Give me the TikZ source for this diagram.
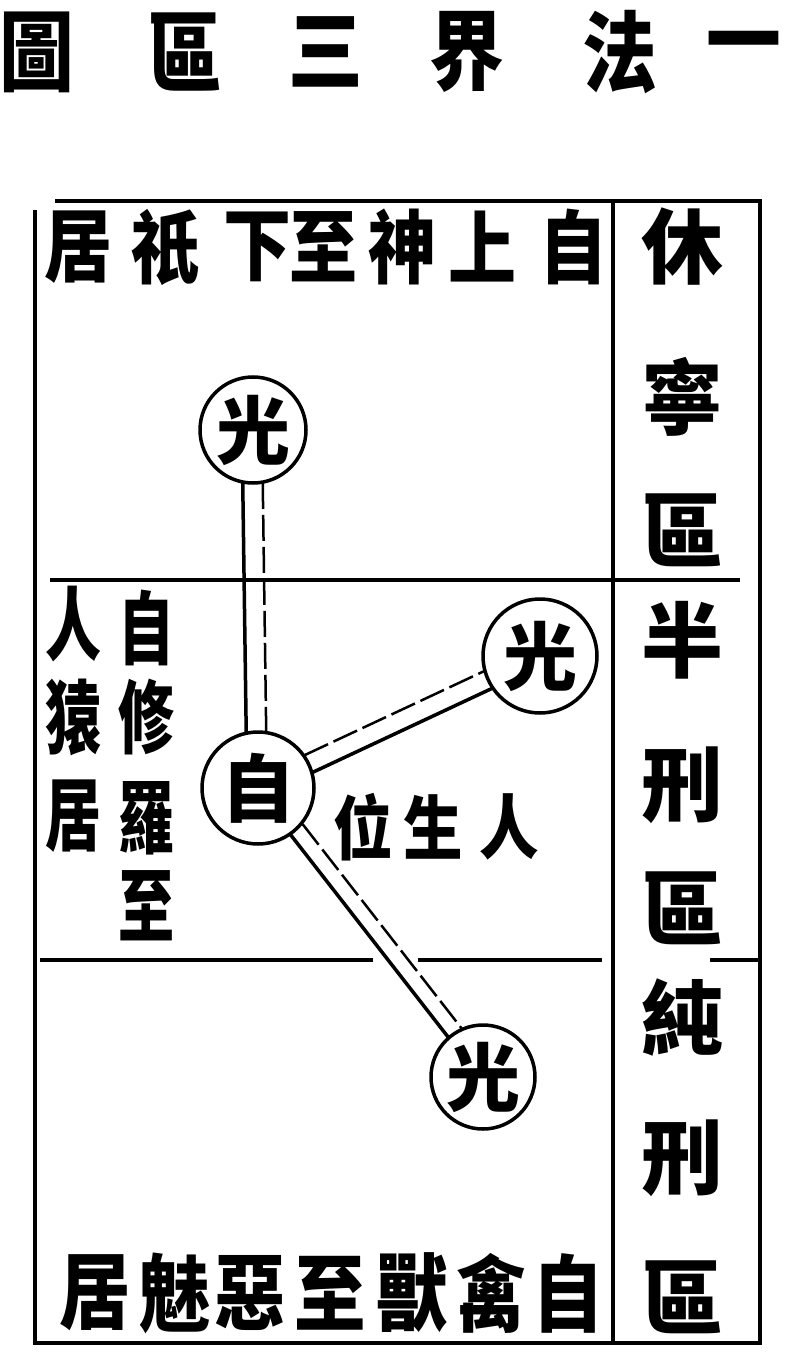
\documentclass[tikz,border=0pt]{standalone}
\usepackage{fontspec}
\newfontfamily\cjk{Noto Sans CJK TC}
\newfontfamily\cjkzhai{Noto Sans CJK TC}[FakeStretch=0.85]
\newfontfamily\cjkshou{Noto Sans CJK TC}[FakeStretch=0.7]
\usetikzlibrary{calc}

\begin{document}
\begin{tikzpicture}[x=1pt, y=-1pt,
	zi/.style={inner sep=0pt, font=\cjk\bfseries\fontsize{#1}{#1}\selectfont},
	zi/.default=80,
	zhai/.style={inner sep=0pt, font=\cjkzhai\bfseries\fontsize{#1}{#1}\selectfont},
	shou/.style={inner sep=0pt, font=\cjkshou\bfseries\fontsize{#1}{#1}\selectfont},
	quan/.style={circle, draw, line width=3.5pt, inner sep=0pt, minimum size=#1, font=\cjk\bfseries\fontsize{74}{74}\selectfont},
	kuang/.style={line width=3.5pt},
	shixian/.style={line width=3.5pt},
	xuxian/.style={line width=2.5pt, dash pattern=on 26pt off 6pt}]
	\useasboundingbox (0,0) rectangle (794,1364);
	% title
	\foreach \c/\x [count=\i] in {圖/37, 區/185, 三/326, 界/467, 法/620, 一/744}
		\node[zhai=88] (title\i) at (\x,52) {\c};
	% frame
	\draw[kuang] (55,201) -- (760,201) -- (760,1343) -- (35,1343) -- (35,210);
	\draw[kuang] (613,201) -- (613,1343);
	\draw[kuang] (50,580) -- (740,580);
	\draw[kuang] (40,960) -- (373,960) (418,960) -- (602,960) (710,960) -- (760,960);
	% rows
	\foreach \c/\x [count=\i] in {居/78, 祇/165, 下/257, 至/323, 神/402, 上/482, 自/573}
		\node[zhai=80] (top\i) at (\x,247) {\c};
	\foreach \c/\x [count=\i] in {居/95, 魅/175, 惡/250, 至/330, 獸/412, 禽/491, 自/568}
		\node[zhai=84] (btm\i) at (\x,1293) {\c};
	\foreach \c/\y [count=\i] in {休/247, 寧/397, 區/530, 半/640, 刑/785, 區/908, 純/1018, 刑/1158, 區/1297}
		\node[zi=82] (right\i) at (682,\y) {\c};
	\foreach \c/\y [count=\i] in {自/628, 修/717, 羅/818, 至/906}
		\node[shou=80] (xiu\i) at (146,\y) {\c};
	\foreach \c/\y [count=\i] in {人/624, 猿/717, 居/816}
		\node[shou=80] (yuan\i) at (73,\y) {\c};
	\foreach \c/\x [count=\i] in {位/363, 生/433, 人/509}
		\node[zhai=70] (wei\i) at (\x,827) {\c};
	% circles
	\node[quan=106pt] (guang1) at (253,430) {光};
	\node[quan=112pt] (bai) at (258,788) {自};
	\node[quan=114pt] (guang2) at (540,656) {光};
	\node[quan=104pt] (guang3) at (483,1077) {光};
	% double lines
	\draw[shixian] ($(guang1)!53pt!(bai)!11pt!-90:(bai)$) -- ($(bai)!56pt!(guang1)!11pt!90:(guang1)$);
	\draw[xuxian] ($(guang1)!53pt!(bai)!9pt!90:(bai)$) -- ($(bai)!56pt!(guang1)!9pt!-90:(guang1)$);
	\draw[shixian] ($(bai)!56pt!(guang2)!9pt!-90:(guang2)$) -- ($(guang2)!57pt!(bai)!9pt!90:(bai)$);
	\draw[xuxian] ($(bai)!56pt!(guang2)!10pt!90:(guang2)$) -- ($(guang2)!57pt!(bai)!10pt!-90:(bai)$);
	\draw[shixian] ($(bai)!56pt!(guang3)!3pt!-90:(guang3)$) -- ($(guang3)!52pt!(bai)!3pt!90:(bai)$);
	\draw[xuxian] ($(bai)!56pt!(guang3)!13pt!90:(guang3)$) -- ($(guang3)!52pt!(bai)!13pt!-90:(bai)$);
\end{tikzpicture}
\end{document}
